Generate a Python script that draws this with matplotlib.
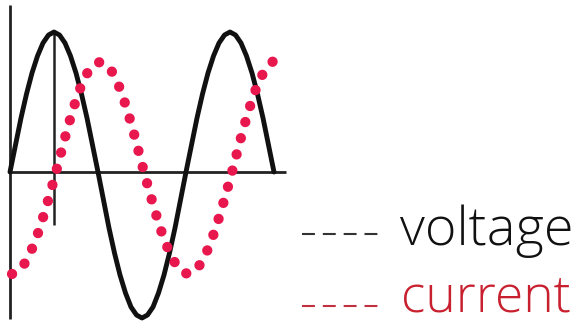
import matplotlib.pyplot as plt

plt.rcParams['font.family'] = ['Open Sans', 'DejaVu Sans']

# sample positions along the wave (px from the vertical axis)
x = [5.5 * k for k in range(49)]

voltage = [0, 27, 54, 78, 99, 116, 129, 137, 140, 137, 129, 116, 99, 78, 54, 27,
           0, -28, -56, -81, -103, -121, -135, -143, -146, -143, -135, -121, -103, -81, -56, -28,
           0, 27, 54, 78, 99, 116, 129, 137, 140, 137, 129, 116, 99, 78, 54, 27, 0]

current = [-102, -100, -94, -85, -72, -57, -39, -20, 0, 21, 42, 61, 78, 92, 102, 108,
           110, 108, 102, 92, 78, 61, 42, 21, 0, -20, -39, -57, -72, -85, -94, -100,
           -102, -100, -94, -85, -72, -57, -39, -20, 0, 21, 42, 61, 78, 92, 102, 108, 114]

labels = ["voltage", "current"]
label_colors = ["#111111", "#c8202f"]

fig = plt.figure(figsize=(5.84, 3.26), dpi=100)
ax = fig.add_axes([0, 0, 1, 1])
ax.set_xlim(-10, 574)
ax.set_ylim(-154, 172)
ax.axis('off')

# axes drawn by hand like the original sketch
ax.plot([0, 0], [167, -147], color="#222222", lw=2.0, solid_capstyle='butt')
ax.plot([0, 276], [0, 0], color="#222222", lw=2.0, solid_capstyle='butt')
ax.plot([44, 44], [139, -53], color="#222222", lw=1.8, solid_capstyle='butt')

ax.plot(x, voltage, color="#111111", lw=3.5, solid_capstyle='round', zorder=3)
ax.plot([v + 2 for v in x], current, color="#e8174d", lw=7.4,
        linestyle=(0, (0.01, 1.62)), dash_capstyle='round', zorder=4)

# legend-ish labels
ax.plot([292, 374], [-62, -62], color="#333333", lw=1.5, dashes=(6.2, 3.8), solid_capstyle='butt')
ax.text(390, -73, labels[0], color=label_colors[0], fontsize=39, fontweight='light',
        va='baseline', ha='left')
ax.plot([292, 370], [-134, -134], color="#c03040", lw=1.5, dashes=(6.2, 3.8), solid_capstyle='butt')
ax.text(391, -140, labels[1], color=label_colors[1], fontsize=37, fontweight='light',
        va='baseline', ha='left')

fig.savefig('out.png', dpi=100)
